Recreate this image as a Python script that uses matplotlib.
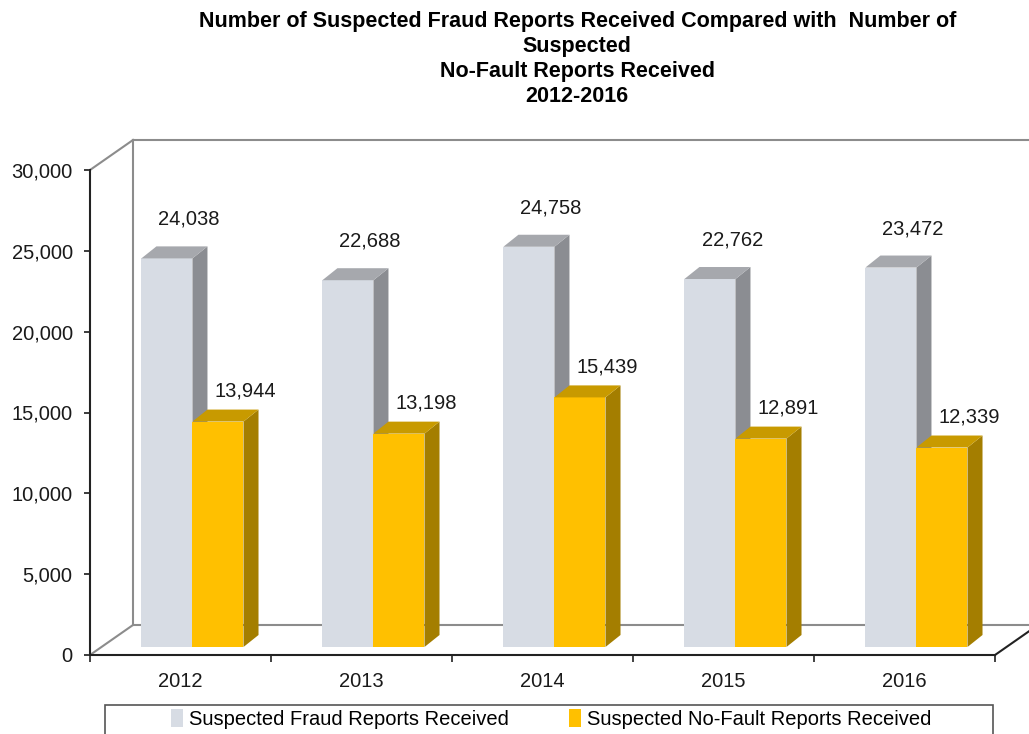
import matplotlib.pyplot as plt
from matplotlib.patches import Polygon, Rectangle

years = ["2012", "2013", "2014", "2015", "2016"]
fraud = [24038, 22688, 24758, 22762, 23472]
nofault = [13944, 13198, 15439, 12891, 12339]

plt.rcParams["font.family"] = ["Liberation Sans", "DejaVu Sans"]

fig = plt.figure(figsize=(10.29, 7.34), dpi=100)
ax = fig.add_axes([90 / 1029, 79 / 734, 905 / 1029, 485 / 734])
ax.set_xlim(-0.5, 4.5)
ax.set_ylim(0, 30000)

# fake 3d offsets (data units)
DX, DY = 0.2376, 1856    # depth of the floor / back wall
FX, FY = 0.066, 495      # where the bars' front faces sit
BX, BY = 0.083, 742      # depth of a bar
W = 0.282

grey = "#8c8c8c"
x0, x1 = -0.5, 4.5
ax.plot([x0, x0 + DX], [30000, 30000 + DY], color=grey, lw=1.5, clip_on=False)
ax.plot([x0 + DX, x0 + DX], [DY, 30000 + DY], color=grey, lw=1.5, clip_on=False)
ax.plot([x0 + DX, x1 + DX], [30000 + DY, 30000 + DY], color=grey, lw=1.5, clip_on=False)
ax.plot([x0, x0 + DX, x1 + DX], [0, DY, DY], color=grey, lw=1.5, clip_on=False)
ax.plot([x1, x1 + DX], [0, DY], color="#222222", lw=1.5, clip_on=False)


def bar3d(left, value, front, top, side):
    b, t = FY, FY + value
    ax.add_patch(Rectangle((left, b), W, value, facecolor=front, edgecolor="none", zorder=3))
    ax.add_patch(Polygon([(left + W, b), (left + W + BX, b + BY), (left + W + BX, t + BY), (left + W, t)],
                         facecolor=side, edgecolor="none", zorder=3))
    ax.add_patch(Polygon([(left, t), (left + BX, t + BY), (left + W + BX, t + BY), (left + W, t)],
                         facecolor=top, edgecolor="none", zorder=3))


for i in range(len(years)):
    c = i + FX
    bar3d(c - W, fraud[i], "#d7dce4", "#a6a8ad", "#8b8d92")
    bar3d(c, nofault[i], "#ffc000", "#c89a00", "#a47e00")
    ax.annotate(f"{fraud[i]:,}", (c - W / 2, FY + fraud[i]), xytext=(16, 28),
                textcoords="offset points", ha="center", va="center", fontsize=14.5, color="#1a1a1a")
    ax.annotate(f"{nofault[i]:,}", (c + W / 2, FY + nofault[i]), xytext=(19.5, 22),
                textcoords="offset points", ha="center", va="center", fontsize=14.5, color="#1a1a1a")

for s in ["top", "right"]:
    ax.spines[s].set_visible(False)
for s in ["left", "bottom"]:
    ax.spines[s].set_color("#222222")
    ax.spines[s].set_linewidth(1.5)

ax.set_yticks(range(0, 30001, 5000))
ax.set_yticklabels([f"{v:,}" for v in range(0, 30001, 5000)])
ax.tick_params(axis="y", length=4.5, width=1.2, pad=8, labelsize=14.5, colors="#1a1a1a")
ax.set_xticks([i - 0.5 for i in range(len(years) + 1)])
ax.set_xticklabels([])
ax.tick_params(axis="x", which="major", length=5, width=1.2, color="#222222")
ax.set_xticks(range(len(years)), minor=True)
ax.set_xticklabels(years, minor=True)
ax.tick_params(axis="x", which="minor", length=0, pad=12, labelsize=14.5, labelcolor="#1a1a1a")

fig.text(0.561, 1 - 11 / 734,
         "Number of Suspected Fraud Reports Received Compared with  Number of\nSuspected\n"
         "No-Fault Reports Received\n2012-2016",
         ha="center", va="top", fontsize=15.5, fontweight="bold", linespacing=1.24)

fig.patches.append(Rectangle((105 / 1029, -0.05), 888 / 1029, 0.05 + 29 / 734,
                             transform=fig.transFigure, facecolor="white", edgecolor="#555555", lw=1.2))
h1 = Rectangle((0, 0), 1, 1, facecolor="#d7dce4")
h2 = Rectangle((0, 0), 1, 1, facecolor="#ffc000")
fig.legend([h1, h2], ["Suspected Fraud Reports Received", "Suspected No-Fault Reports Received"],
           loc="center", bbox_to_anchor=(551 / 1029, 1 - 719 / 734), ncol=2, frameon=False,
           fontsize=14.5, handlelength=0.6, handleheight=1.0, handletextpad=0.3, columnspacing=3.0)

fig.savefig("out.png", dpi=100)
